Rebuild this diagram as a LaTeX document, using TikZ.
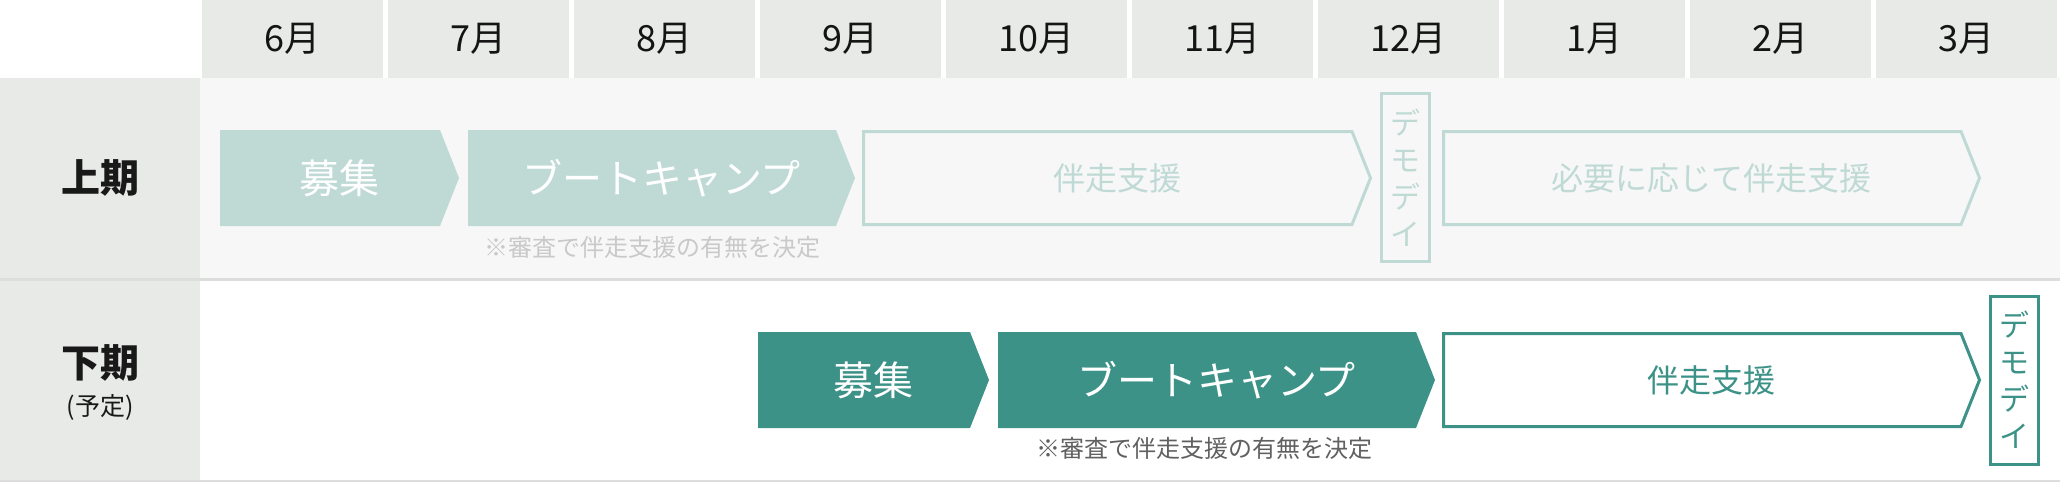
\documentclass[tikz,border=0pt]{standalone}
\usepackage{fontspec}
\usepackage{xcolor}
\usepackage{tikz}
\setmainfont{Noto Sans CJK JP}
\definecolor{hdrgray}{HTML}{E8EAE7}
\definecolor{rowgray}{HTML}{F7F7F7}
\definecolor{rulegray}{HTML}{DDDDDD}
\definecolor{teallight}{HTML}{BFDAD5}
\definecolor{tealdark}{HTML}{3C9287}
\definecolor{notelight}{HTML}{C9C9C9}
\definecolor{notedark}{HTML}{606060}

\begin{document}
\begin{tikzpicture}[
      x=1pt, y=-1pt,
      cell/.style={
        fill=hdrgray, inner sep=0pt, text=black!92,
        minimum width=181pt, minimum height=78pt,
        font=\fontsize{36}{40}\selectfont
      },
      term/.style={text=black!90, font=\bfseries\fontsize{39}{44}\selectfont},
      subterm/.style={text=black!90, font=\fontsize{25}{28}\selectfont},
      lightfill/.style={fill=teallight},
      darkfill/.style={fill=tealdark},
      lightline/.style={draw=teallight, line width=3pt},
      darkline/.style={draw=tealdark, line width=3pt},
      biglbl/.style={text=white, font=\fontsize{40}{44}\selectfont},
      lightlbl/.style={text=teallight, font=\fontsize{32}{38}\selectfont},
      darklbl/.style={text=tealdark, font=\fontsize{32}{38}\selectfont},
      note/.style={font=\fontsize{24}{28}\selectfont},
      demo/.style={
        line width=3pt, inner sep=0pt, align=center,
        minimum width=48pt, minimum height=168pt,
        font=\fontsize{30}{37}\selectfont
      }
    ]
      \useasboundingbox (0,0) rectangle (2060,482);

      % rows
      \fill[hdrgray] (0,78) rectangle (200,482);
      \fill[rowgray] (200,78) rectangle (2060,278);
      \fill[rulegray] (0,278) rectangle (2060,280.5);
      \fill[rulegray] (0,479.5) rectangle (2060,482);

      % months
      \foreach \m [count=\i from 0] in {6,7,8,9,10,11,12,1,2,3} {
        \node[cell] (m\m) at ({292.5+186*\i},39) {{\m}月};
      }

      \node[term] (k1) at (100,178) {上期};
      \node[term] (k2) at (100,363) {下期};
      \node[subterm] (k2s) at (100,407) {(予定)};

      % filled phases
      \foreach \a/\b/\y/\sty/\lbl/\nm/\txt in {
          220/440/178/lightfill/biglbl/a1/募集,
          468/836/178/lightfill/biglbl/b1/ブートキャンプ,
          758/970/380/darkfill/biglbl/a2/募集,
          998/1416/380/darkfill/biglbl/b2/ブートキャンプ} {
        \path[\sty] (\a,\y-48) -- (\b,\y-48) -- (\b+19,\y)
          -- (\b,\y+48) -- (\a,\y+48) -- cycle;
        \node[\lbl] (\nm) at ({(\a+\b+19)/2},\y) {\txt};
      }

      % outlined phases
      \foreach \a/\b/\y/\sty/\lbl/\nm/\txt in {
          863.5/1352/178/lightline/lightlbl/c1/伴走支援,
          1443.5/1961/178/lightline/lightlbl/d1/必要に応じて伴走支援,
          1443.5/1961/380/darkline/darklbl/c2/伴走支援} {
        \path[\sty] (\a,\y-46.5) -- (\b,\y-46.5) -- (\b+18.5,\y)
          -- (\b,\y+46.5) -- (\a,\y+46.5) -- cycle;
        \node[\lbl] (\nm) at ({(\a+\b+19)/2},\y) {\txt};
      }

      \node[note, text=notelight] (n1) at (652,247) {※審査で伴走支援の有無を決定};
      \node[note, text=notedark] (n2) at (1204,448) {※審査で伴走支援の有無を決定};

      \node[demo, draw=teallight, text=teallight] (e1) at (1405.5,177.5) {デ\\モ\\デ\\イ};
      \node[demo, draw=tealdark, text=tealdark] (e2) at (2014,380) {デ\\モ\\デ\\イ};
    \end{tikzpicture}
\end{document}
